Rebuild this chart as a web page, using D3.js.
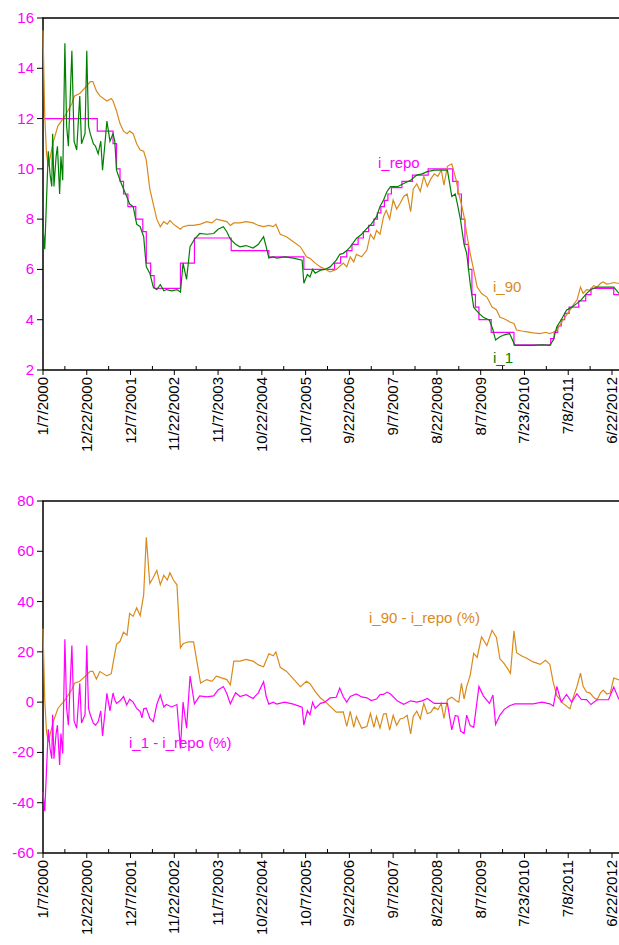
<!DOCTYPE html>
<html>
<head>
<meta charset="utf-8">
<script src="https://cdn.jsdelivr.net/npm/d3@7"></script>
<style>
  body { margin: 0; background: #fff; }
  text { font-family: "Liberation Sans", Arial, sans-serif; }
</style>
</head>
<body>
<div id="chart"></div>
<script>
// weeks counted from 1/7/2000
const repoSteps = [
  [0, 12], [62, 11.5], [80, 11], [84, 10], [88, 9.5], [92, 9], [97, 8.5], [106, 8], [114, 7.5],
  [118, 6.25], [123, 5.75], [127, 5.25], [157, 6.25], [173, 7.25], [215, 6.75], [258, 6.5],
  [298, 6], [333, 6.25], [340, 6.5], [347, 6.75], [353, 7], [360, 7.25], [366, 7.5], [372, 7.75],
  [378, 8], [382, 8.25], [386, 8.5], [390, 8.75], [394, 9], [398, 9.25], [410, 9.5], [422, 9.75],
  [440, 10], [468, 9.5], [474, 9], [478, 8], [482, 7], [486, 6], [490, 5], [494, 4.5], [498, 4],
  [512, 3.5], [538, 3], [580, 3.25], [584, 3.5], [588, 3.75], [592, 4], [596, 4.25], [601, 4.5],
  [612, 4.75], [620, 5], [626, 5.25], [652, 5], [658, 5]
];

const i90 = [
  [0, 15.5], [2, 12.1], [4, 10.6], [6, 10.1], [12, 11.1], [17, 11.7], [25, 12.1], [33, 12.6],
  [36, 12.9], [42, 13.0], [50, 13.3], [54, 13.47], [57, 13.47], [61, 13.1], [65, 12.9],
  [73, 12.7], [78, 12.8], [80, 12.7], [84, 12.3], [88, 11.8], [92, 11.5], [96, 11.4], [99, 11.5],
  [103, 11.4], [107, 11.0], [111, 10.75], [115, 10.7], [118, 10.35], [122, 9.2], [126, 8.6],
  [130, 8.0], [134, 7.7], [138, 7.9], [142, 7.8], [145, 7.95], [149, 7.8], [153, 7.7],
  [157, 7.6], [160, 7.7], [166, 7.75], [172, 7.75], [180, 7.8], [187, 7.9], [193, 7.85],
  [198, 8.0], [204, 7.95], [210, 7.9], [214, 7.75], [218, 7.85], [225, 7.85], [232, 7.9],
  [240, 7.85], [246, 7.75], [252, 7.7], [258, 7.75], [263, 7.7], [266, 7.8], [271, 7.4],
  [278, 7.3], [286, 7.1], [294, 6.9], [301, 6.5], [305, 6.44], [311, 6.25], [317, 6.1],
  [323, 6.0], [328, 5.9], [335, 6.0], [343, 6.25], [347, 6.1], [351, 6.5], [355, 6.3],
  [358, 6.6], [364, 6.5], [370, 6.77], [374, 7.4], [378, 7.2], [381, 7.55], [385, 7.4],
  [389, 8.1], [392, 8.35], [396, 8.0], [400, 8.76], [404, 8.4], [408, 8.63], [412, 8.9],
  [416, 9.0], [420, 8.3], [423, 9.2], [427, 9.4], [431, 9.1], [435, 9.7], [439, 9.3],
  [443, 9.6], [447, 9.8], [451, 9.7], [455, 9.95], [458, 9.35], [462, 10.1], [467, 10.2],
  [472, 9.55], [475, 9.0], [478, 8.6], [481, 8.1], [484, 7.43], [488, 6.64], [492, 5.97],
  [496, 5.3], [501, 5.04], [507, 4.9], [513, 4.5], [518, 4.4], [522, 4.1], [526, 4.05],
  [530, 3.98], [534, 3.9], [538, 3.85], [541, 3.59], [547, 3.55], [553, 3.52], [560, 3.48],
  [568, 3.45], [574, 3.5], [579, 3.45], [583, 3.5], [587, 3.59], [594, 3.98], [602, 4.38],
  [606, 4.6], [610, 4.78], [614, 5.3], [617, 5.05], [621, 5.2], [625, 5.18], [629, 5.35],
  [633, 5.3], [637, 5.45], [640, 5.5], [644, 5.42], [648, 5.44], [652, 5.48], [658, 5.44]
];

const i1 = [
  [0, 7.7], [2, 6.8], [4, 8.75], [6, 10.7], [8, 9.8], [10, 9.3], [11, 11.4], [12.5, 9.3],
  [15, 10.5], [16.5, 10.9], [19, 9.0], [20.5, 10.5], [22.5, 9.55], [25, 15.0], [27, 11.7],
  [29, 10.9], [33, 14.7], [35.5, 11.1], [38.5, 10.75], [42, 12.9], [44, 11.0], [48, 11.4],
  [50, 14.7], [52, 11.7], [54, 11.4], [57.5, 11.0], [60, 10.9], [63, 10.6], [66, 11.1],
  [68, 9.95], [71, 11.1], [73, 11.9], [76.5, 11.1], [80, 11.4], [82, 11.1], [84, 9.95],
  [88, 9.55], [92, 9.2], [95.6, 8.9], [99, 8.6], [103, 8.5], [107, 7.8], [111, 7.7],
  [113, 7.5], [115, 7.3], [118, 6.1], [122, 5.85], [126, 5.3], [130, 5.2], [134, 5.4],
  [138, 5.15], [141, 5.2], [147, 5.15], [153, 5.2], [157, 5.1], [160, 6.25], [164, 5.6],
  [168, 6.9], [173, 7.2], [179, 7.43], [187, 7.4], [195, 7.43], [200, 7.6], [206, 7.7],
  [210, 7.5], [214, 7.2], [220, 7.0], [225, 6.9], [232, 6.95], [240, 6.85], [246, 7.0],
  [252, 7.3], [255, 6.9], [258, 6.45], [263, 6.5], [267, 6.45], [276, 6.5], [286, 6.45],
  [296, 6.37], [298, 5.45], [302, 5.8], [305, 5.7], [308, 6.0], [311, 5.85], [317, 5.97],
  [322, 6.0], [328, 6.1], [335, 6.37], [339, 6.6], [343, 6.64], [347, 6.75], [351, 6.9],
  [358, 7.23], [364, 7.4], [370, 7.63], [375, 7.8], [381, 8.1], [385, 8.5], [389, 8.76],
  [393, 9.1], [397, 9.29], [405, 9.29], [412, 9.42], [420, 9.55], [427, 9.75], [433, 9.8],
  [439, 9.89], [447, 9.95], [455, 9.95], [462, 9.95], [467, 8.9], [471, 9.0], [474, 8.5],
  [477, 7.96], [481, 7.0], [484, 6.64], [488, 5.44], [492, 4.5], [498, 4.25], [503, 4.1],
  [510, 3.98], [514, 3.6], [517, 3.19], [522, 3.32], [527, 3.4], [533, 3.45], [539, 2.98],
  [560, 2.98], [570, 3.0], [579, 2.98], [583, 3.2], [587, 3.72], [592, 4.0], [598, 4.38],
  [604, 4.5], [610, 4.65], [615, 4.8], [621, 5.05], [626, 5.2], [633, 5.3], [640, 5.3],
  [646, 5.3], [652, 5.3], [658, 5.05]
];

const topTicks = [2, 4, 6, 8, 10, 12, 14, 16];
const bottomTicks = [-60, -40, -20, 0, 20, 40, 60, 80];
const xTickWeeks = d3.range(0, 651, 50);

const start = new Date(2000, 0, 7);
const fmtDate = w => {
  const d = d3.timeDay.offset(start, w * 7);
  return (d.getMonth() + 1) + "/" + d.getDate() + "/" + d.getFullYear();
};

// repo rate at a given week (step function)
const repoAt = w => {
  let v = repoSteps[0][1];
  for (const s of repoSteps) if (s[0] <= w) v = s[1];
  return v;
};
const repoLine = [];
repoSteps.forEach((s, i) => {
  if (i > 0) repoLine.push([s[0], repoSteps[i - 1][1]]);
  repoLine.push(s);
});
const spread90 = i90.map(d => [d[0], (d[1] - repoAt(d[0])) / repoAt(d[0]) * 100]);
const spread1 = i1.map(d => [d[0], (d[1] - repoAt(d[0])) / repoAt(d[0]) * 100]);

const width = 619, height = 945;
const magenta = "#ff00ff", orange = "#d98a1c", green = "#008000";

const svg = d3.select("#chart").append("svg")
  .attr("width", width).attr("height", height);

const x = d3.scaleLinear().domain([0, 658]).range([43, 619]);

function panel(top, bottom, domain, ticks) {
  const y = d3.scaleLinear().domain(domain).range([bottom, top]);
  const g = svg.append("g");

  // frame: left, top, bottom
  g.append("path")
    .attr("d", `M43,${bottom}V${top}H${width}M43,${bottom}H${width}`)
    .attr("fill", "none").attr("stroke", "#000").attr("stroke-width", 1.5);

  g.selectAll(".yt").data(ticks).enter().append("line")
    .attr("x1", 37).attr("x2", 43)
    .attr("y1", d => y(d)).attr("y2", d => y(d))
    .attr("stroke", "#000");
  g.selectAll(".yl").data(ticks).enter().append("text")
    .attr("x", 34).attr("y", d => y(d) + 5)
    .attr("text-anchor", "end").attr("font-size", 15).attr("fill", magenta)
    .text(d => d);

  g.selectAll(".xt").data(xTickWeeks).enter().append("line")
    .attr("x1", d => x(d)).attr("x2", d => x(d))
    .attr("y1", bottom).attr("y2", bottom + 5).attr("stroke", "#000");
  g.selectAll(".xm").data(xTickWeeks.map(d => d + 25)).enter().append("line")
    .attr("x1", d => x(d)).attr("x2", d => x(d))
    .attr("y1", bottom).attr("y2", bottom - 4).attr("stroke", "#000");
  g.selectAll(".xl").data(xTickWeeks).enter().append("text")
    .attr("transform", d => `translate(${x(d) + 5},${bottom + 7}) rotate(-90)`)
    .attr("text-anchor", "end").attr("font-size", 15).attr("fill", "#000")
    .text(d => fmtDate(d));

  return { g, y };
}

const p1 = panel(18, 370, [2, 16], topTicks);
const line1 = d3.line().x(d => x(d[0])).y(d => p1.y(d[1]));
p1.g.append("path").datum(repoLine).attr("d", line1)
  .attr("fill", "none").attr("stroke", magenta).attr("stroke-width", 1.2);
p1.g.append("path").datum(i90).attr("d", line1)
  .attr("fill", "none").attr("stroke", orange).attr("stroke-width", 1.2);
p1.g.append("path").datum(i1).attr("d", line1)
  .attr("fill", "none").attr("stroke", green).attr("stroke-width", 1.2);
p1.g.append("text").attr("x", 378).attr("y", 168).attr("font-size", 15)
  .attr("fill", magenta).text("i_repo");
p1.g.append("text").attr("x", 493).attr("y", 292).attr("font-size", 15)
  .attr("fill", orange).text("i_90");
p1.g.append("text").attr("x", 493).attr("y", 363).attr("font-size", 15)
  .attr("fill", green).text("i_1");

const p2 = panel(501, 853, [-60, 80], bottomTicks);
const line2 = d3.line().x(d => x(d[0])).y(d => p2.y(d[1]));
p2.g.append("path").datum(spread90).attr("d", line2)
  .attr("fill", "none").attr("stroke", orange).attr("stroke-width", 1.2);
p2.g.append("path").datum(spread1).attr("d", line2)
  .attr("fill", "none").attr("stroke", magenta).attr("stroke-width", 1.2);
p2.g.append("text").attr("x", 369).attr("y", 623).attr("font-size", 15)
  .attr("fill", orange).text("i_90 - i_repo (%)");
p2.g.append("text").attr("x", 129).attr("y", 748).attr("font-size", 15)
  .attr("fill", magenta).text("i_1 - i_repo (%)");
</script>
</body>
</html>
